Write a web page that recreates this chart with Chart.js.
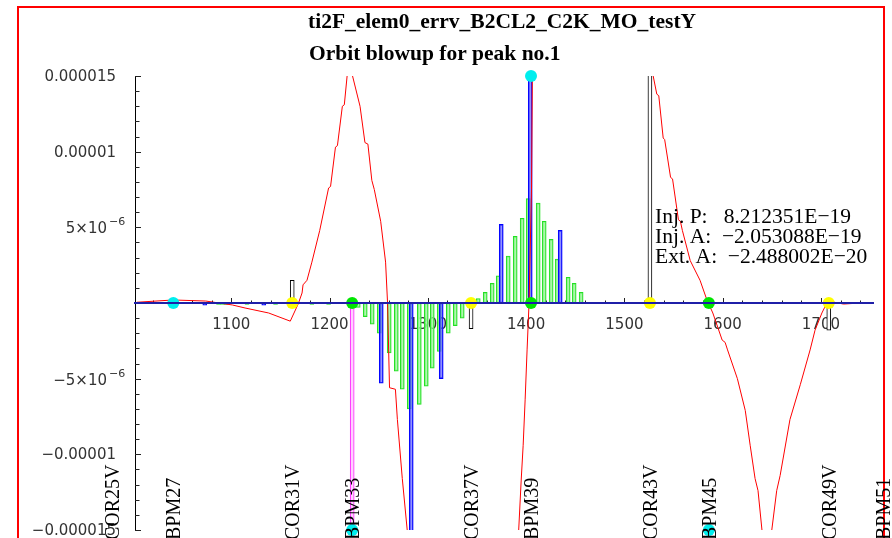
<!DOCTYPE html>
<html>
<head>
<meta charset="utf-8">
<script src="https://cdn.jsdelivr.net/npm/chart.js"></script>
<style>
  html, body { margin: 0; padding: 0; background: #fff; }
  #wrap { width: 892px; height: 538px; }
</style>
</head>
<body>
<div id="wrap"><canvas id="orbit"></canvas></div>
<script>
// vertical values are in units of 1e-6
const titleLines = ['ti2F_elem0_errv_B2CL2_C2K_MO_testY', 'Orbit blowup for peak no.1'];
const infoLines = ['Inj. P:   8.212351E\u221219', 'Inj. A:  \u22122.053088E\u221219', 'Ext. A:  \u22122.488002E\u221220'];

const elemNames = ['COR25V', 'BPM27', 'COR31V', 'BPM33', 'COR37V', 'BPM39', 'COR43V', 'BPM45', 'COR49V', 'BPM51'];
const elemPos = [979, 1041, 1162, 1223, 1344, 1405, 1526, 1586, 1708, 1763];

const yTickVals = [15, 10, 5, -5, -10, -15];
const yTickBase = ['0.000015', '0.00001', '5\u00d710', '\u22125\u00d710', '\u22120.00001', '\u22120.000015'];
const yTickExp = ['', '', '\u22126', '\u22126', '', ''];

// orbit (red line)
const orbitX = [1004, 1041, 1074, 1101, 1114, 1138, 1160, 1168, 1172, 1173, 1177, 1182, 1190, 1199, 1201,
  1206, 1208, 1213, 1215, 1218, 1220.5, 1223, 1231, 1236, 1239, 1243, 1245.5, 1252, 1257, 1259, 1261,
  1267, 1269, 1274, 1279, 1282, 1300, 1350, 1385, 1392, 1395, 1397, 1399, 1401, 1403, 1405.5, 1406.5,
  1450, 1500, 1522, 1528, 1529, 1533, 1535, 1539.5, 1541, 1547, 1549, 1555, 1557, 1559, 1567, 1577, 1584,
  1590, 1599.5, 1602.5, 1605, 1615, 1623, 1628, 1633, 1636, 1640, 1643, 1648, 1650, 1655, 1658.5, 1668.5,
  1679, 1689, 1694, 1701, 1706, 1712, 1723, 1740, 1753];
const orbitY = [0.05, 0.2, 0.13, -0.13, -0.33, -0.66, -1.2, -0.07, 0.66, 1.2, 1.5, 2.7, 4.8, 7.6, 7.7,
  10.3, 10.4, 13.0, 13.1, 15.1, 17.4, 15.1, 13.0, 10.6, 10.5, 8.1, 7.5, 5.4, 2.7, 0, -5.6,
  -5.7, -7.7, -11.6, -15, -17, -30, -35, -20, -15.6, -11.7, -9.4, -6.4, -3.1, 0, 7.5, 16,
  40, 35, 20, 16.1, 15.1, 13.8, 13.7, 10.9, 10.8, 8.3, 8.2, 5.5, 5.4, 4.8, 2.8, 1.5, 0.2,
  -0.66, -2.45, -2.6, -3.1, -5.0, -7.1, -9.4, -11.6, -12.4, -15, -17, -17, -15, -12.4, -11.4, -7.7,
  -5.4, -3.1, -1.8, -0.66, 0, 0.07, -0.07, 0, 0];

// bars
const greenX = [1087, 1091, 1095, 1116, 1145, 1182, 1199,
  1229.2, 1236.3, 1243.4, 1250.6, 1260.7, 1267.9, 1274, 1281.1, 1291.3, 1298.4, 1304.5, 1311.6, 1320.8, 1327.9, 1335,
  1351.3, 1358.4, 1365.5, 1371.6, 1381.8, 1388.9, 1396, 1402.1, 1412.3, 1418.4, 1425.5, 1431.6, 1442.8, 1448.9, 1456];
const greenY = [-0.1, -0.1, -0.1, -0.1, -0.1, -0.1, -0.1,
  -0.3, -0.9, -1.4, -2.0, -3.3, -4.5, -5.7, -7.0, -6.7, -5.5, -4.3, -3.2, -2.0, -1.5, -1.0,
  0.3, 0.7, 1.3, 1.8, 3.1, 4.4, 5.6, 6.9, 6.6, 5.4, 4.2, 2.9, 1.7, 1.3, 0.7];
const blueX = [1073, 1133, 1252.6, 1283.1, 1313.6, 1374.7, 1404.2, 1434.7];
const blueY = [-0.15, -0.15, -5.3, -20, -5.0, 5.2, 20, 4.8];
const blackX = [1162, 1344, 1526, 1708];
const blackY = [1.5, -1.7, 20, -1.8];
const magentaX = [1223];
const magentaY = [-20];

// element markers
const cyanX = [1041, 1223, 1405, 1586];
const cyanY = [0, -15, 15, -15];
const yellowX = [1162, 1344, 1526, 1708];
const yellowY = [0, 0, 0, 0];
const greenDotX = [1223, 1405, 1586];
const greenDotY = [0, 0, 0];

const pts = (xs, ys) => xs.map((x, i) => ({ x: x, y: ys[i] }));

function barSet(xs, ys, border, fill) {
  return {
    type: 'bar', data: pts(xs, ys), borderColor: border, backgroundColor: fill,
    borderWidth: 1, borderSkipped: false, barThickness: 4, grouped: false, order: 3
  };
}
function dotSet(xs, ys, color) {
  return {
    type: 'scatter', data: pts(xs, ys), pointRadius: 6, pointHoverRadius: 6,
    backgroundColor: color, borderWidth: 0, clip: false, order: 0
  };
}

const decor = {
  id: 'decor',
  beforeDatasetsDraw(chart) {
    const { ctx, scales: { x, y } } = chart;
    const y0 = y.getPixelForValue(0);
    const left = chart.chartArea.left;
    ctx.save();
    ctx.strokeStyle = '#222';
    ctx.lineWidth = 1;
    ctx.beginPath();
    for (let v = 1020; v <= 1740; v += 20) {
      const px = Math.round(x.getPixelForValue(v)) + 0.5;
      ctx.moveTo(px, y0);
      ctx.lineTo(px, y0 - (v % 100 === 0 ? 5 : 2.5));
    }
    for (let v = -15; v <= 15; v++) {
      const py = Math.round(y.getPixelForValue(v)) + 0.5;
      ctx.moveTo(left, py);
      ctx.lineTo(left + (v % 5 === 0 ? 6 : 4.5), py);
    }
    ctx.stroke();
    ctx.restore();
  },
  afterDraw(chart) {
    const { ctx, scales: { x, y } } = chart;
    ctx.save();
    // frame
    ctx.strokeStyle = '#ff0000';
    ctx.lineWidth = 2;
    ctx.strokeRect(18, 7, 866, 700);

    // y labels
    ctx.fillStyle = '#333';
    ctx.textBaseline = 'middle';
    yTickVals.forEach((v, i) => {
      const py = y.getPixelForValue(v);
      if (yTickExp[i]) {
        ctx.font = '15px "DejaVu Sans"';
        ctx.textAlign = 'right';
        ctx.fillText(yTickBase[i], 107, py + 2);
        ctx.font = '11px "DejaVu Sans"';
        ctx.textAlign = 'left';
        ctx.fillText(yTickExp[i], 109, py - 5);
      } else {
        ctx.font = '15px "DejaVu Sans"';
        ctx.textAlign = 'right';
        ctx.fillText(yTickBase[i], 116, py + 1);
      }
    });

    // titles
    ctx.fillStyle = '#000';
    ctx.textAlign = 'left';
    ctx.textBaseline = 'alphabetic';
    ctx.font = 'bold 21.5px "Liberation Serif"';
    ctx.fillText(titleLines[0], 308, 28);
    ctx.fillText(titleLines[1], 309, 60);

    // info box
    ctx.font = '21.5px "Liberation Serif"';
    infoLines.forEach((t, i) => ctx.fillText(t, 655, 223 + i * 20));

    // element names, rotated
    ctx.font = '20px "Liberation Serif"';
    elemNames.forEach((n, i) => {
      const px = x.getPixelForValue(elemPos[i]);
      ctx.save();
      ctx.translate(px + 7, 540);
      ctx.rotate(-Math.PI / 2);
      ctx.fillText(n, 0, 0);
      ctx.restore();
    });
    ctx.restore();
  }
};

new Chart(document.getElementById('orbit'), {
  type: 'bar',
  data: {
    datasets: [
      dotSet(cyanX, cyanY, '#00eeee'),
      dotSet(yellowX, yellowY, '#ffff00'),
      dotSet(greenDotX, greenDotY, '#00e600'),
      {
        type: 'line', data: pts(orbitX, orbitY), borderColor: '#ff0000', borderWidth: 1,
        pointRadius: 0, tension: 0, fill: false, order: 1
      },
      barSet(magentaX, magentaY, '#ff22ff', '#ffd0ff'),
      barSet(blackX, blackY, '#000000', '#ffffff'),
      barSet(blueX, blueY, '#0000ff', 'rgba(90,90,255,0.6)'),
      barSet(greenX, greenY, '#22e022', 'rgba(150,245,150,0.7)')
    ]
  },
  options: {
    responsive: true,
    maintainAspectRatio: false,
    animation: false,
    events: [],
    layout: { padding: { top: 76, bottom: 8, left: 0, right: 19 } },
    plugins: { legend: { display: false }, tooltip: { enabled: false } },
    scales: {
      x: {
        type: 'linear', min: 1002, max: 1753, position: { y: 0 }, offset: false,
        grid: { display: false, drawTicks: false, offset: false },
        border: { display: true, color: '#1f1fa8', width: 2, z: 1 },
        ticks: {
          stepSize: 100, includeBounds: false, autoSkip: false, maxRotation: 0, padding: 13, color: '#333',
          font: { family: 'DejaVu Sans', size: 15 },
          callback: v => (v % 100 === 0 ? String(v) : '')
        }
      },
      y: {
        min: -15, max: 15,
        grid: { display: false, drawTicks: false },
        border: { display: true, color: '#000', width: 1 },
        ticks: { display: false, stepSize: 1 },
        afterFit: s => { s.width = 135; }
      }
    }
  },
  plugins: [decor]
});
</script>
</body>
</html>
